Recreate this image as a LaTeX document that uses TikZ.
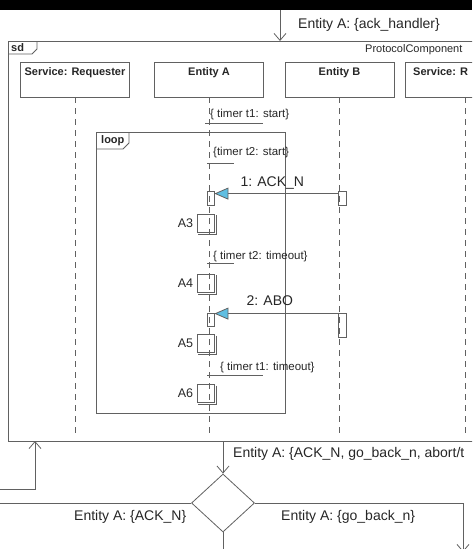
\documentclass[tikz,border=0pt]{standalone}
\usepackage{fontspec}
\setmainfont{Liberation Sans}
\usetikzlibrary{positioning,arrows.meta,shapes.geometric}
\definecolor{linegray}{gray}{0.38}
\definecolor{tipblue}{RGB}{96,190,225}
\tikzset{
  umlline/.style={draw=linegray, line width=0.8pt},
  openarrow/.style={umlline, -{Straight Barb[length=7pt, width=12pt]}},
  msgarrow/.style={umlline, -{Triangle[length=14pt, width=12pt, fill=tipblue]}},
  lifeline/.style={umlline, dash pattern=on 6pt off 5pt},
  headbox/.style={umlline, minimum width=109pt, minimum height=35pt, inner ysep=1.5pt, text height=12pt, text depth=20pt, font=\bfseries\fontsize{11}{13}\selectfont},
  framebox/.style={umlline, anchor=north west, inner sep=0pt},
  tabtext/.style={font=\bfseries\fontsize{11}{13}\selectfont, anchor=base west, inner sep=0pt},
  timertext/.style={font=\fontsize{11.5}{13}\selectfont, anchor=base west, inner sep=0pt},
  flowlabel/.style={font=\fontsize{14}{16}\selectfont, anchor=base west, inner sep=0pt},
  msglabel/.style={font=\fontsize{14}{16}\selectfont, anchor=base, inner sep=0pt},
  actsmall/.style={umlline, inner sep=0pt, minimum width=7pt},
  actbig/.style={umlline, inner sep=0pt, minimum width=17pt, minimum height=18pt, label={[font=\fontsize{12.5}{14}\selectfont]left:#1}},
  decision/.style={umlline, diamond, inner sep=0pt, minimum width=63pt, minimum height=58pt}
}
\begin{document}
\begin{tikzpicture}[x=1pt, y=-1pt, every node/.style={text=black!85}]
  \useasboundingbox (0,0) rectangle (472,549);
  \clip (0,0) rectangle (472,549);
  \fill[black] (0,0) rectangle (472,10);
  % sequence frame
  \node[framebox, minimum width=482pt, minimum height=400pt] (sd) at (8,41) {};
  \draw[umlline] (8,54) -- (32,54) -- (37,49) -- (37,41);
  \node[tabtext] (sdname) at (11,51.5) {sd};
  \node[font=\fontsize{11}{13}\selectfont, anchor=base west, inner sep=0pt] (compname) at (365,52) {ProtocolComponent};
  % lifelines
  \node[headbox] (req) at (75,79.5) {Service: Requester};
  \node[headbox] (entA) at (209,79.5) {Entity A};
  \node[headbox] (entB) at (339.5,79.5) {Entity B};
  \node[headbox, minimum width=120pt] (servR) at (465,79.5) {};
  \node[tabtext] (servRname) at (413,75.5) {Service: R};
  \foreach \h in {req, entA, entB, servR}
    \draw[lifeline] (\h.south) -- ++(0,336);
  % loop fragment
  \node[framebox, minimum width=189pt, minimum height=281pt] (loopfr) at (96,132) {};
  \draw[umlline] (96,149) -- (123,149) -- (129,143) -- (129,132);
  \node[tabtext] (loopname) at (101,143) {loop};
  % timers
  \node[timertext] (t1start) at (210,117) {\{ timer t1: start\}};
  \node[timertext] (t2start) at (213,155) {\{timer t2: start\}};
  \node[timertext] (t2out) at (213,259) {\{ timer t2: timeout\}};
  \node[timertext] (t1out) at (220,370) {\{ timer t1: timeout\}};
  \coordinate (t1a) at (205,123);
  \coordinate (t2a) at (207,163);
  \coordinate (t2b) at (207,263);
  \coordinate (t1b) at (207,375);
  \draw[umlline] (t1a) -- ++(58,0);
  \draw[umlline] (t2a) -- ++(27,0);
  \draw[umlline] (t2b) -- ++(27,0);
  \draw[umlline] (t1b) -- ++(56,0);
  % messages
  \node[actsmall, minimum height=14pt] (actA1) at (210.5,198) {};
  \node[actsmall, minimum width=8pt, minimum height=14pt] (actB1) at (342,198) {};
  \node[actsmall, minimum height=13pt] (actA2) at (210.5,319.5) {};
  \node[actsmall, minimum width=8pt, minimum height=24pt] (actB2) at (342,325) {};
  \draw[msgarrow] ([yshift=-3pt]actB1.north west) -- node[msglabel, pos=0.53, yshift=7pt] {1: ACK\_N} ([yshift=-3pt]actA1.north east);
  \draw[msgarrow] ([yshift=-1pt]actB2.north west) -- node[msglabel, pos=0.55, yshift=8pt] {2: ABO} ([yshift=-1pt]actA2.north east);
  \foreach \n/\y in {A3/223, A4/283, A5/343.5, A6/393.5} {
    \node[actbig=\n] (act\n) at (205.5,\y) {};
    \draw[umlline] ([shift={(1.5pt,-1.5pt)}]act\n.north east) -- ([shift={(1.5pt,-1.5pt)}]act\n.south east) -- ([shift={(1.5pt,-1.5pt)}]act\n.south west);
  }
  % flow outside the frame
  \node[decision] (dec) at (223,503) {};
  \coordinate (topsrc) at (280,10);
  \coordinate (inL) at (0,489);
  \coordinate (inX) at (35,441);
  \coordinate (outL) at (-5,503);
  \coordinate (outR) at (463,552);
  \coordinate (outB) at (223,560);
  \draw[openarrow] (topsrc) -- (sd.north -| topsrc);
  \draw[openarrow] (inL) -| (inX);
  \draw[openarrow] (sd.south -| dec.north) -- (dec.north);
  \draw[umlline] (dec.west) -- (outL);
  \draw[openarrow] (dec.east) -| (outR);
  \draw[umlline] (dec.south) -- (outB);
  \node[flowlabel] (lblTop) at (298,28) {Entity A: \{ack\_handler\}};
  \node[flowlabel] (lblDec) at (233,457) {Entity A: \{ACK\_N, go\_back\_n, abort/t};
  \node[flowlabel] (lblAck) at (74,520) {Entity A: \{ACK\_N\}};
  \node[flowlabel] (lblGbn) at (281,520) {Entity A: \{go\_back\_n\}};
\end{tikzpicture}
\end{document}
